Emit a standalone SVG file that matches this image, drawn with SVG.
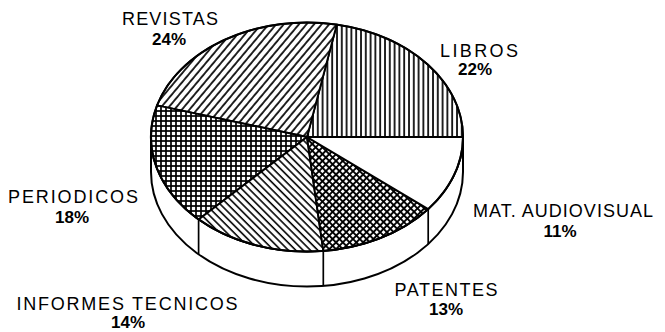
<svg xmlns="http://www.w3.org/2000/svg" width="665" height="332" viewBox="0 0 665 332">
<style>
  .edge { stroke: #000; stroke-width: 1.9; stroke-linejoin: round; }
  .rim { fill: #fff; stroke: #000; stroke-width: 2; stroke-linejoin: round; }
  .side { stroke: #000; stroke-width: 1.7; fill: none; }
  .lbl { font-family: "Liberation Sans", Arial, sans-serif; font-size: 18px; fill: #000; text-anchor: middle; }
  .pct { font-family: "Liberation Sans", Arial, sans-serif; font-size: 17px; font-weight: bold; fill: #000; text-anchor: middle; }
</style>
<defs>
  <pattern id="pRev" patternUnits="userSpaceOnUse" width="5.8" height="10" patternTransform="rotate(40)">
    <rect width="5.8" height="10" fill="#fff"/>
    <line x1="1" y1="0" x2="1" y2="10" stroke="#000" stroke-width="1.7"/>
  </pattern>
  <pattern id="pLib" patternUnits="userSpaceOnUse" width="4.8" height="10">
    <rect width="4.8" height="10" fill="#fff"/>
    <line x1="1" y1="0" x2="1" y2="10" stroke="#000" stroke-width="1.7"/>
  </pattern>
  <pattern id="pPer" patternUnits="userSpaceOnUse" width="5" height="5">
    <rect width="5" height="5" fill="#fff"/>
    <line x1="1" y1="0" x2="1" y2="5" stroke="#000" stroke-width="1.7"/>
    <line x1="0" y1="1" x2="5" y2="1" stroke="#000" stroke-width="1.7"/>
  </pattern>
  <pattern id="pTec" patternUnits="userSpaceOnUse" width="5.2" height="10" patternTransform="rotate(-45)">
    <rect width="5.2" height="10" fill="#fff"/>
    <line x1="1" y1="0" x2="1" y2="10" stroke="#000" stroke-width="1.6"/>
  </pattern>
  <pattern id="pPat" patternUnits="userSpaceOnUse" width="4.8" height="4.8" patternTransform="rotate(45)">
    <rect width="4.8" height="4.8" fill="#fff"/>
    <line x1="1" y1="0" x2="1" y2="4.8" stroke="#000" stroke-width="1.9"/>
    <line x1="0" y1="1" x2="4.8" y2="1" stroke="#000" stroke-width="1.9"/>
  </pattern>
</defs>

<rect width="665" height="332" fill="#fff"/>

<g id="pie-side">
  <path class="rim" d="M151,137 L151,172 A156,114.5 0 0 0 463,172 L463,137 A156,114.5 0 0 1 151,137 Z"/>
  <line class="side" x1="198.6" y1="219.4" x2="198.6" y2="254.4"/>
  <line class="side" x1="323.3" y1="250.9" x2="323.3" y2="285.9"/>
  <line class="side" x1="428.2" y1="209.1" x2="428.2" y2="244.1"/>
</g>

<g id="libros">
  <path class="edge" fill="url(#pLib)" d="M307,137 L463,137 A156,114.5 0 0 0 336.8,24.6 Z"/>
  <text class="lbl" x="479" y="57" textLength="78" lengthAdjust="spacing">LIBROS</text>
  <text class="pct" x="475" y="75">22%</text>
</g>

<g id="revistas">
  <path class="edge" fill="url(#pRev)" d="M307,137 L336.8,24.6 A156,114.5 0 0 0 157,105.4 Z"/>
  <text class="lbl" x="170" y="25" textLength="96" lengthAdjust="spacing">REVISTAS</text>
  <text class="pct" x="169" y="45">24%</text>
</g>

<g id="periodicos">
  <path class="edge" fill="url(#pPer)" d="M307,137 L157,105.4 A156,114.5 0 0 0 198.6,219.4 Z"/>
  <text class="lbl" x="73" y="203" textLength="130" lengthAdjust="spacing">PERIODICOS</text>
  <text class="pct" x="72" y="223">18%</text>
</g>

<g id="informes-tecnicos">
  <path class="edge" fill="url(#pTec)" d="M307,137 L198.6,219.4 A156,114.5 0 0 0 323.3,250.9 Z"/>
  <text class="lbl" x="127" y="310" textLength="221" lengthAdjust="spacing">INFORMES TECNICOS</text>
  <text class="pct" x="128" y="328">14%</text>
</g>

<g id="patentes">
  <path class="edge" fill="url(#pPat)" d="M307,137 L323.3,250.9 A156,114.5 0 0 0 428.2,209.1 Z"/>
  <text class="lbl" x="446" y="296" textLength="103" lengthAdjust="spacing">PATENTES</text>
  <text class="pct" x="446" y="315">13%</text>
</g>

<g id="mat-audiovisual">
  <path class="edge" fill="#fff" d="M307,137 L428.2,209.1 A156,114.5 0 0 0 463,137 Z"/>
  <text class="lbl" x="563" y="217" textLength="180" lengthAdjust="spacing">MAT. AUDIOVISUAL</text>
  <text class="pct" x="560" y="237">11%</text>
</g>

<g id="connectors"></g>

<ellipse cx="307" cy="137" rx="156" ry="114.5" fill="none" stroke="#000" stroke-width="2"/>
</svg>
